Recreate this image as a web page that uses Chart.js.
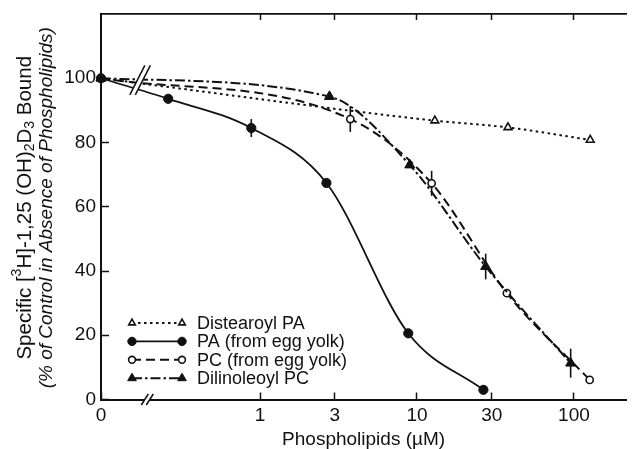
<!DOCTYPE html>
<html lang="en">
<head>
<meta charset="utf-8">
<title>Phospholipids vs. 1,25(OH)2D3 binding</title>
<script src="https://cdn.jsdelivr.net/npm/chart.js@4.4.1/dist/chart.umd.min.js"></script>
<style>
  html, body { margin: 0; padding: 0; background: #fff; }
  canvas { display: block; }
</style>
</head>
<body>
<canvas id="bindingChart" width="633" height="449"></canvas>
<script>
// concentrations in µM (0 = control without phospholipid), values in % of control
const distearoylPAConc = [0, 13, 38, 127];
const distearoylPAVals = [100, 86.8, 84.7, 80.8];

const eggPAConc = [0, 0.26, 0.88, 2.65, 8.8, 26.5];
const eggPAVals = [100, 93.6, 84.5, 67.4, 20.6, 3.0];
const eggPAErr  = [0, 0, 2.8, 0, 0, 0];

const eggPCConc = [0, 3.76, 12.4, 37.4, 126];
const eggPCVals = [100, 87.3, 67.3, 33.1, 6.1];
const eggPCErr  = [0, 4, 3.9, 0, 0];

const dilinoleoylPCConc = [0, 2.77, 9.0, 27.4, 95.3];
const dilinoleoylPCVals = [100, 94.3, 73.0, 41.4, 11.3];
const dilinoleoylPCErr  = [0, 0, 0, 4, 4.5];

const xTickVals = [0, 1, 3, 10, 30, 100];
const xTickLabels = ['0', '1', '3', '10', '30', '100'];
const xTopTickVals = [1, 3, 10, 30, 100];
const yTickVals = [0, 20, 40, 60, 80, 100];

const legendLabels = ['Distearoyl PA', 'PA (from egg yolk)', 'PC (from egg yolk)', 'Dilinoleoyl PC'];

// x axis is log10(conc); "0" is put to the left of the axis break
const X_ZERO = -1.013;
const X_MAX = 2.333;
const CURVE_BREAK_X = -0.764;
const AXIS_BREAK_X = -0.718;

const INK = '#111';
const FONT = '"Liberation Sans", Arial, Helvetica, sans-serif';

const toX = c => c === 0 ? X_ZERO : Math.log10(c);
const points = (conc, vals) => conc.map((c, i) => ({ x: toX(c), y: vals[i] }));

// vertical error bars, drawn under the markers
const errorBars = {
  id: 'errorBars',
  beforeDatasetsDraw(chart) {
    const { ctx, scales: { x, y } } = chart;
    ctx.save();
    ctx.strokeStyle = INK;
    ctx.lineWidth = 1.6;
    chart.data.datasets.forEach(ds => {
      if (!ds.errors) return;
      ds.data.forEach((p, i) => {
        const e = ds.errors[i];
        if (!e) return;
        const px = x.getPixelForValue(p.x);
        ctx.beginPath();
        ctx.moveTo(px, y.getPixelForValue(p.y + e));
        ctx.lineTo(px, y.getPixelForValue(p.y - e));
        ctx.stroke();
      });
    });
    ctx.restore();
  }
};

// "//" marks on the curves and on the x axis
function slashPair(ctx, cx, yTop, yBot, lean, gap) {
  ctx.fillStyle = '#fff';
  ctx.beginPath();
  ctx.moveTo(cx - lean - gap / 2, yBot);
  ctx.lineTo(cx + lean - gap / 2, yTop);
  ctx.lineTo(cx + lean + gap / 2, yTop);
  ctx.lineTo(cx - lean + gap / 2, yBot);
  ctx.closePath();
  ctx.fill();
  ctx.beginPath();
  ctx.moveTo(cx - lean - gap / 2, yBot);
  ctx.lineTo(cx + lean - gap / 2, yTop);
  ctx.moveTo(cx - lean + gap / 2, yBot);
  ctx.lineTo(cx + lean + gap / 2, yTop);
  ctx.stroke();
}

const axisBreak = {
  id: 'axisBreak',
  afterDraw(chart) {
    const { ctx, chartArea, scales: { x, y } } = chart;
    ctx.save();
    ctx.strokeStyle = INK;
    ctx.lineWidth = 1.5;
    slashPair(ctx, x.getPixelForValue(CURVE_BREAK_X), y.getPixelForValue(104), y.getPixelForValue(94.8), 7.5, 5.5);
    slashPair(ctx, x.getPixelForValue(AXIS_BREAK_X), chartArea.bottom - 5.5, chartArea.bottom + 5.5, 3.5, 5);
    ctx.restore();
  }
};

// legend inside the plot, marker - line - marker like the original
const insideLegend = {
  id: 'insideLegend',
  afterDraw(chart) {
    const { ctx, chartArea } = chart;
    const x0 = chartArea.left + 31, x1 = chartArea.left + 81, tx = chartArea.left + 96;
    let ly = chartArea.bottom - 76.5;
    ctx.save();
    chart.data.datasets.forEach((ds, i) => {
      ctx.strokeStyle = INK;
      ctx.lineWidth = ds.borderWidth;
      ctx.setLineDash(ds.borderDash || []);
      ctx.beginPath();
      ctx.moveTo(x0, ly);
      ctx.lineTo(x1, ly);
      ctx.stroke();
      ctx.setLineDash([]);
      const opts = { pointStyle: ds.pointStyle, radius: ds.legendRadius, borderWidth: ds.pointBorderWidth, rotation: 0 };
      ctx.fillStyle = ds.pointBackgroundColor;
      ctx.lineWidth = ds.pointBorderWidth;
      Chart.helpers.drawPoint(ctx, opts, x0, ly);
      Chart.helpers.drawPoint(ctx, opts, x1, ly);
      ctx.fillStyle = INK;
      ctx.font = '18px ' + FONT;
      ctx.textAlign = 'left';
      ctx.textBaseline = 'middle';
      ctx.fillText(legendLabels[i], tx, ly + 1);
      ly += 18.4;
    });
    ctx.restore();
  }
};

// two-line rotated y title with super/subscripts
const yTitleRuns = [['Specific [', 0], ['3', -1], ['H]-1,25 (OH)', 0], ['2', 1], ['D', 0], ['3', 1], [' Bound', 0]];
const yTitleLine2 = '(% of Control in Absence of Phospholipids)';

const yTitle = {
  id: 'yTitle',
  afterDraw(chart) {
    const { ctx, chartArea } = chart;
    const cy = (chartArea.top + chartArea.bottom) / 2 + 1;
    const size = 20.5;
    const fontFor = s => (s ? Math.round(size * 0.68) : size) + 'px ' + FONT;
    ctx.save();
    ctx.fillStyle = INK;
    ctx.textBaseline = 'middle';
    ctx.translate(25, cy);
    ctx.rotate(-Math.PI / 2);
    let total = 0;
    const widths = yTitleRuns.map(([t, s]) => {
      ctx.font = fontFor(s);
      const w = ctx.measureText(t).width;
      total += w;
      return w;
    });
    let tx = -total / 2;
    ctx.textAlign = 'left';
    yTitleRuns.forEach(([t, s], i) => {
      ctx.font = fontFor(s);
      const dy = s < 0 ? -size * 0.36 : s > 0 ? size * 0.24 : 0;
      ctx.fillText(t, tx, dy);
      tx += widths[i];
    });
    ctx.restore();

    ctx.save();
    ctx.fillStyle = INK;
    ctx.textBaseline = 'middle';
    ctx.textAlign = 'center';
    ctx.translate(47, cy);
    ctx.rotate(-Math.PI / 2);
    ctx.font = 'italic 19px ' + FONT;
    ctx.fillText(yTitleLine2, 0, 0);
    ctx.restore();
  }
};

const tickFont = { family: FONT, size: 19 };

new Chart(document.getElementById('bindingChart'), {
  type: 'line',
  data: {
    datasets: [{
      label: legendLabels[0],
      data: points(distearoylPAConc, distearoylPAVals),
      borderColor: INK,
      borderWidth: 2,
      borderDash: [2.5, 3.5],
      pointStyle: 'triangle',
      pointRadius: 4.5,
      legendRadius: 3.8,
      pointBackgroundColor: '#fff',
      pointBorderColor: INK,
      pointBorderWidth: 1.6,
      order: 3
    }, {
      label: legendLabels[1],
      data: points(eggPAConc, eggPAVals),
      errors: eggPAErr,
      borderColor: INK,
      borderWidth: 1.8,
      pointStyle: 'circle',
      pointRadius: 4.6,
      legendRadius: 4.2,
      pointBackgroundColor: INK,
      pointBorderColor: INK,
      pointBorderWidth: 1,
      order: 0
    }, {
      label: legendLabels[2],
      data: points(eggPCConc, eggPCVals),
      errors: eggPCErr,
      borderColor: INK,
      borderWidth: 2,
      borderDash: [9, 5],
      pointStyle: 'circle',
      pointRadius: 3.6,
      legendRadius: 3.4,
      pointBackgroundColor: '#fff',
      pointBorderColor: INK,
      pointBorderWidth: 1.6,
      order: 2
    }, {
      label: legendLabels[3],
      data: points(dilinoleoylPCConc, dilinoleoylPCVals),
      errors: dilinoleoylPCErr,
      borderColor: INK,
      borderWidth: 2,
      borderDash: [10, 3, 2.5, 3],
      pointStyle: 'triangle',
      pointRadius: 5.8,
      legendRadius: 5,
      pointBackgroundColor: INK,
      pointBorderColor: INK,
      pointBorderWidth: 1,
      order: 1
    }]
  },
  options: {
    responsive: false,
    animation: false,
    layout: { padding: 0 },
    datasets: { line: { cubicInterpolationMode: 'monotone', clip: false, fill: false } },
    plugins: { legend: { display: false }, tooltip: { enabled: false } },
    scales: {
      x: {
        type: 'linear',
        min: X_ZERO,
        max: X_MAX,
        afterBuildTicks: s => { s.ticks = xTickVals.map(v => ({ value: toX(v) })); },
        afterFit: s => { s.height = 49.5; s.paddingLeft = 0; s.paddingRight = 0; },
        ticks: {
          callback: (v, i) => xTickLabels[i],
          font: tickFont,
          color: INK,
          padding: 12,
          maxRotation: 0,
          autoSkip: false
        },
        grid: { drawOnChartArea: false, tickLength: -7, tickWidth: 1.5, color: INK },
        border: { color: INK, width: 2 },
        title: {
          display: true,
          text: 'Phospholipids (µM)',
          color: INK,
          font: { family: FONT, size: 19, lineHeight: 1 },
          padding: { top: 0, bottom: 0 }
        }
      },
      xTop: {
        type: 'linear',
        position: 'top',
        min: X_ZERO,
        max: X_MAX,
        afterBuildTicks: s => { s.ticks = xTopTickVals.map(v => ({ value: toX(v) })); },
        afterFit: s => { s.height = 14; s.paddingLeft = 0; s.paddingRight = 0; },
        ticks: { display: false },
        grid: { drawOnChartArea: false, tickLength: -6, tickWidth: 1.5, color: INK },
        border: { color: INK, width: 1.8 }
      },
      y: {
        min: 0,
        max: 120,
        afterBuildTicks: s => { s.ticks = yTickVals.map(v => ({ value: v })); },
        afterFit: s => { s.width = 101; s.paddingTop = 0; s.paddingBottom = 0; },
        ticks: { font: tickFont, color: INK, padding: 13 },
        grid: { drawOnChartArea: false, tickLength: -8, tickWidth: 1.5, color: INK },
        border: { color: INK, width: 2 }
      }
    }
  },
  plugins: [errorBars, axisBreak, insideLegend, yTitle]
});
</script>
</body>
</html>
